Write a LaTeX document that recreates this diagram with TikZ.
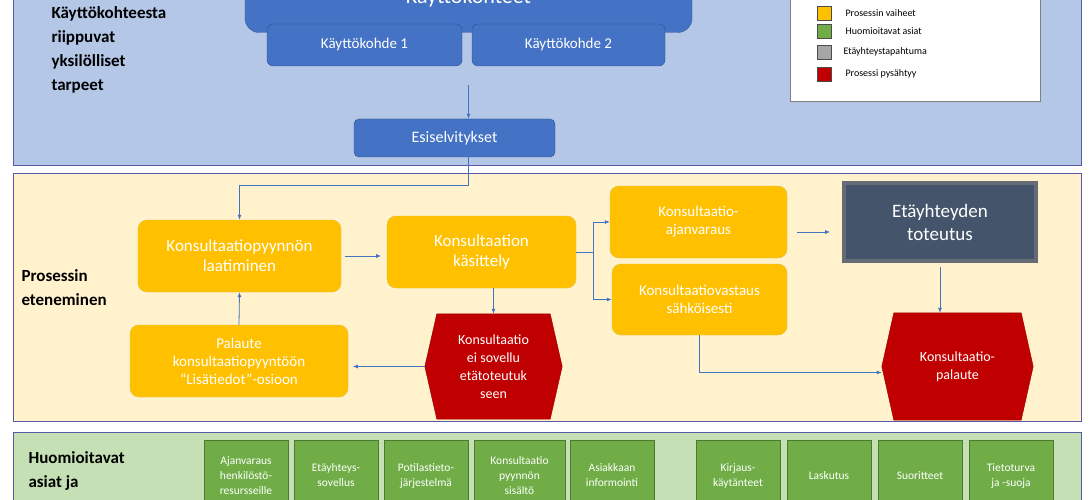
\documentclass[tikz,border=0pt]{standalone}
\usepackage{fontspec}
\setmainfont{Carlito}
\usetikzlibrary{arrows.meta}
\definecolor{bandblue}{HTML}{B4C7E7}
\definecolor{bandyellow}{HTML}{FFF2CC}
\definecolor{bandgreen}{HTML}{C5E0B4}
\definecolor{boxblue}{HTML}{4472C4}
\definecolor{boxyellow}{HTML}{FFC000}
\definecolor{boxgreen}{HTML}{70AD47}
\definecolor{boxred}{HTML}{C00000}
\definecolor{boxdark}{HTML}{44546A}
\tikzset{
  band/.style={draw=gray!70!blue, line width=1pt},
  phase/.style={draw=yellow!50!brown, fill=boxyellow, rounded corners=9pt, text=white, align=center, font=\fontsize{17}{20}\selectfont},
  stop/.style={text=white, align=center, inner sep=0pt, font=\fontsize{14}{18}\selectfont},
  hexa/.style={draw=boxred!80!black, fill=boxred},
  note/.style={draw=boxgreen!70!black, fill=boxgreen, text=white, align=center, anchor=north, minimum height=70pt, text depth=0pt, font=\fontsize{11.5}{15}\selectfont},
  flow/.style={draw=boxblue, line width=0.8pt, -{Latex[length=5pt,width=4pt]}},
  key/.style={draw=gray!60!black, minimum width=14pt, minimum height=14pt, inner sep=0pt},
  keytext/.style={anchor=west, font=\fontsize{10}{12}\selectfont},
  side/.style={anchor=north west, align=left, font=\bfseries\fontsize{17}{24}\selectfont}
}
\begin{document}
\begin{tikzpicture}[x=1pt,y=-1pt]
\useasboundingbox (0,0) rectangle (1090,500);
\clip (0,0) rectangle (1090,500);
% Bands
\draw[band, fill=bandblue] (13,-5) rectangle (1081,166);
\draw[band, fill=bandyellow] (13,174) rectangle (1081,421);
\draw[band, fill=bandgreen] (13,432) rectangle (1081,510);
\node[side] (tarpeet) at (48,3) {Käyttökohteesta\\riippuvat\\yksilölliset\\tarpeet};
\node[side] (eteneminen) at (18,266) {Prosessin\\eteneminen};
\node[side] (asiat) at (25,448) {Huomioitavat\\asiat ja};
% Top
\node[draw=boxblue!80!black, fill=boxblue, rounded corners=14pt, minimum width=447pt, minimum height=105pt] (kohteet) at (468.5,-20) {};
\node[text=white, font=\fontsize{22}{26}\selectfont] (kohteettitle) at (468.5,-2) {Käyttökohteet};
\node[draw=boxblue!70!black, fill=boxblue, rounded corners=6pt, minimum width=195pt, minimum height=42pt, text=white, font=\fontsize{15}{17}\selectfont] (kohde1) at (364.5,45) {Käyttökohde 1};
\node[draw=boxblue!70!black, fill=boxblue, rounded corners=6pt, minimum width=193pt, minimum height=42pt, text=white, font=\fontsize{15}{17}\selectfont] (kohde2) at (568.5,45) {Käyttökohde 2};
\node[draw=boxblue!70!black, fill=boxblue, rounded corners=5pt, minimum width=201pt, minimum height=38pt, text=white, font=\fontsize{16}{18}\selectfont] (esisel) at (454.5,138) {Esiselvitykset};
% Legend
\node[draw=gray, fill=white, minimum width=250pt, minimum height=110pt, anchor=south west] (legend) at (790,101) {};
\node[key, fill=boxyellow] (k1) at (824,13) {};
\node[keytext] at (842,13) {Prosessin vaiheet};
\node[key, fill=boxgreen] (k2) at (824,31) {};
\node[keytext] at (842,31) {Huomioitavat asiat};
\node[key, fill=gray!70] (k3) at (824,52) {};
\node[keytext] at (840,52) {Etäyhteystapahtuma};
\node[key, fill=boxred] (k4) at (824,74) {};
\node[keytext] at (842,74) {Prosessi pysähtyy};
% Process
\node[phase, minimum width=203pt, minimum height=72pt] (laatiminen) at (239.5,256) {Konsultaatiopyynnön\\laatiminen};
\node[phase, minimum width=189pt, minimum height=72pt] (kasittely) at (481.5,252) {Konsultaation\\käsittely};
\node[phase, minimum width=177pt, minimum height=72pt, font=\fontsize{15}{18}\selectfont] (ajanvaraus) at (698.5,222) {Konsultaatio-\\ajanvaraus};
\node[phase, minimum width=175pt, minimum height=71pt, font=\fontsize{15}{18}\selectfont] (vastaus) at (699.5,299.5) {Konsultaatiovastaus\\sähköisesti};
\node[phase, minimum width=218pt, minimum height=72pt, font=\fontsize{15}{18}\selectfont] (palaute) at (239,361) {Palaute\\konsultaatiopyyntöön\\“Lisätiedot”-osioon};
\node[draw=gray!55!boxdark, line width=4pt, fill=boxdark, minimum width=192pt, minimum height=78pt, text=white, align=center, font=\fontsize{19}{23}\selectfont] (toteutus) at (940,222) {Etäyhteyden\\toteutus};
% Hexagons
\node[stop, minimum width=137pt, minimum height=105pt] (eisovellu) at (493.5,366.5) {};
\node[stop, minimum width=151pt, minimum height=107pt] (kpalaute) at (957.5,366.5) {};
\foreach \h in {eisovellu,kpalaute}
  \fill[hexa] (\h.west) -- ([xshift=12pt]\h.north west) -- ([xshift=-12pt]\h.north east) -- (\h.east) -- ([xshift=-12pt]\h.south east) -- ([xshift=12pt]\h.south west) -- cycle;
\node[stop] at (eisovellu) {Konsultaatio\\ei sovellu\\etätoteutuk\\seen};
\node[stop] at (kpalaute) {Konsultaatio-\\palaute};
% Connectors
\draw[flow] (kohteet.south |- 0,85) -- (esisel.north -| kohteet.south);
\draw[flow] (esisel.south -| kohteet.south) -- ++(0,28) -| (laatiminen.north);
\draw[flow] (laatiminen.east) ++(4,0) -- ++(36,0);
\draw[flow] (kasittely.south -| eisovellu.north) -- (eisovellu.north);
\draw[flow] (eisovellu.west) -- ++(-72,0);
\draw[flow] (palaute.north) -- (laatiminen.south);
\draw[flow] (kasittely.east) -- ++(17,0) |- (ajanvaraus.west);
\draw[flow] (kasittely.east) ++(17,0) |- (vastaus.west);
\draw[flow] (ajanvaraus.east) ++(10,10) -- ++(33,0);
\draw[flow] (toteutus.south) ++(0,4) -- (kpalaute.north -| toteutus.south);
\draw[flow] (vastaus.south) |- ([yshift=-6pt]kpalaute.west);
% Notes
\foreach \cx/\w/\txt [count=\i] in {246/84/Ajanvaraus\\henkilöstö-\\resursseille, 336/84/Etäyhteys-\\sovellus, 426/84/Potilastieto-\\järjestelmä, 519.5/91/Konsultaatio\\pyynnön\\sisältö, 612/84/Asiakkaan\\informointi, 738/84/Kirjaus-\\käytänteet, 829/84/Laskutus, 920/84/Suoritteet, 1011/84/Tietoturva\\ja -suoja}
  \node[note, minimum width=\w pt] (note\i) at (\cx,440) {\txt};
\end{tikzpicture}
\end{document}
